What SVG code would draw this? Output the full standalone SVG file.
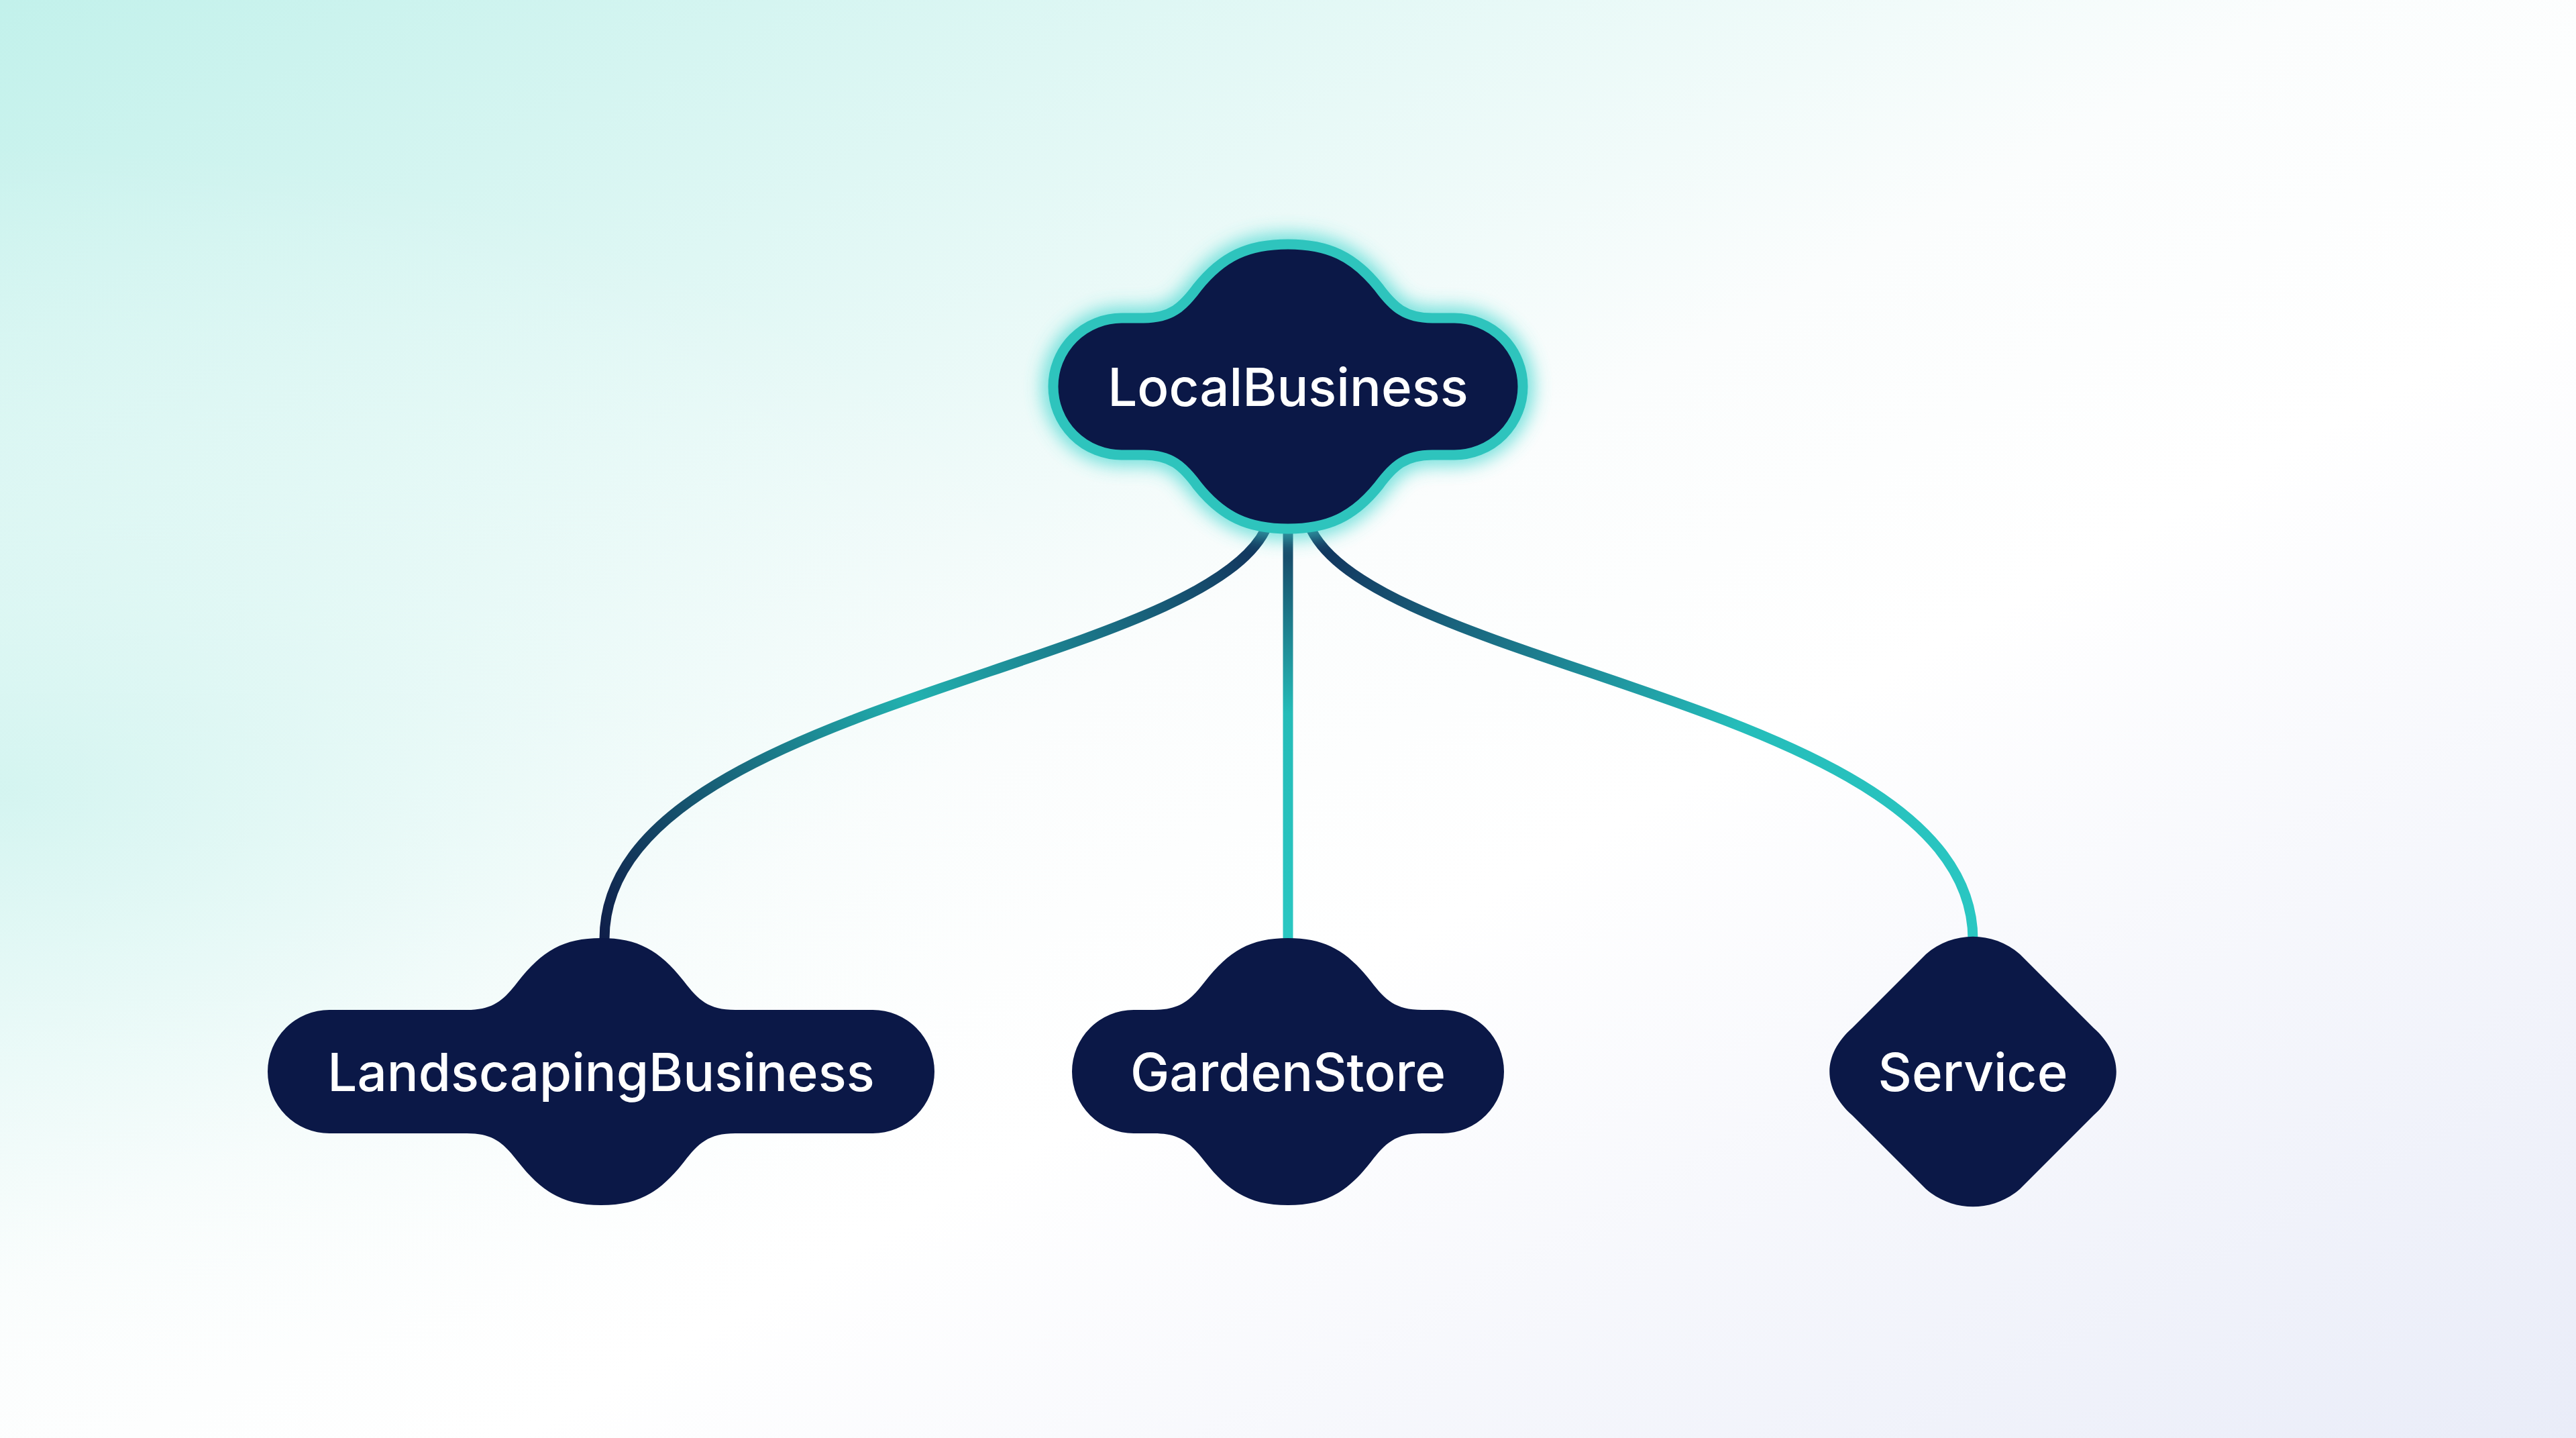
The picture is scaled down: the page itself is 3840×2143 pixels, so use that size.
<svg xmlns="http://www.w3.org/2000/svg" width="3840" height="2143" viewBox="0 0 3840 2143">
<defs>
<linearGradient id="bg" x1="0" y1="0" x2="1" y2="1">
<stop offset="0" stop-color="#c2f1eb"/>
<stop offset="0.45" stop-color="#fbfdfd"/>
<stop offset="0.6" stop-color="#ffffff"/>
<stop offset="1" stop-color="#e9ecf8"/>
</linearGradient>
<radialGradient id="bg2" cx="0" cy="0.55" r="0.45">
<stop offset="0" stop-color="#cdf3ee" stop-opacity="0.7"/>
<stop offset="1" stop-color="#ffffff" stop-opacity="0"/>
</radialGradient>
<linearGradient id="gL" gradientUnits="userSpaceOnUse" x1="1886" y1="795" x2="901" y2="1398">
<stop offset="0" stop-color="#12305a"/>
<stop offset="0.5" stop-color="#22b2b0"/>
<stop offset="1" stop-color="#0f1f4a"/>
</linearGradient>
<linearGradient id="gR" gradientUnits="userSpaceOnUse" x1="1955" y1="795" x2="2941" y2="1398">
<stop offset="0" stop-color="#12305a"/>
<stop offset="0.6" stop-color="#25bdba"/>
<stop offset="1" stop-color="#2ac7c2"/>
</linearGradient>
<linearGradient id="gM" gradientUnits="userSpaceOnUse" x1="0" y1="789" x2="0" y2="1398">
<stop offset="0" stop-color="#163a5e"/>
<stop offset="0.45" stop-color="#25bcb8"/>
<stop offset="1" stop-color="#2ac7c2"/>
</linearGradient>
<filter id="glow" x="-20%" y="-20%" width="140%" height="140%">
<feGaussianBlur stdDeviation="14"/>
</filter>
</defs>
<style>
.node{fill:#0b1847;}
.lbl{font-family:Inter,"Noto Sans","Liberation Sans",sans-serif;font-size:78px;font-weight:500;fill:#ffffff;text-anchor:middle;dominant-baseline:central;}
.edge{fill:none;stroke-width:15;stroke-linecap:round;}
</style>
<rect width="3840" height="2143" fill="url(#bg)"/>
<rect width="3840" height="2143" fill="url(#bg2)"/>
<g id="connectors">
<path class="edge" stroke="url(#gL)" d="M1886,790 C1780,1000 900,1050 901,1400"/>
<path class="edge" stroke="url(#gM)" d="M1920,790 L1920,1400"/>
<path class="edge" stroke="url(#gR)" d="M1955,790 C2060,1000 2940,1050 2941,1400"/>
</g>
<g id="LocalBusiness">
<path d="M1672,474 L1705,474 C1745,474 1763,458 1785,428 C1822,382 1860,364 1920,364 C1980,364 2018,382 2055,428 C2077,458 2095,474 2135,474 L2168,474 A102 102 0 0 1 2168,678 L2135,678 C2095,678 2077,694 2055,724 C2018,770 1980,788 1920,788 C1860,788 1822,770 1785,724 C1763,694 1745,678 1705,678 L1672,678 A102 102 0 0 1 1672,474 Z" fill="none" stroke="#3fd6cf" stroke-width="30" filter="url(#glow)" opacity="0.8"/>
<path class="node" d="M1672,474 L1705,474 C1745,474 1763,458 1785,428 C1822,382 1860,364 1920,364 C1980,364 2018,382 2055,428 C2077,458 2095,474 2135,474 L2168,474 A102 102 0 0 1 2168,678 L2135,678 C2095,678 2077,694 2055,724 C2018,770 1980,788 1920,788 C1860,788 1822,770 1785,724 C1763,694 1745,678 1705,678 L1672,678 A102 102 0 0 1 1672,474 Z" stroke="#2ec4bd" stroke-width="15"/>
<text class="lbl" x="1920" y="576">LocalBusiness</text>
</g>
<g id="LandscapingBusiness" transform="translate(896,1597)">
<path class="node" d="M-405,-92 L-200,-92 C-160,-92 -145,-107 -124,-134 C-88,-180 -56,-199 0,-199 C56,-199 88,-180 124,-134 C145,-107 160,-92 200,-92 L405,-92 A92 92 0 0 1 405,92 L200,92 C160,92 145,107 124,134 C88,180 56,199 0,199 C-56,199 -88,180 -124,134 C-145,107 -160,92 -200,92 L-405,92 A92 92 0 0 1 -405,-92 Z"/>
<text class="lbl" x="0" y="0">LandscapingBusiness</text>
</g>
<g id="GardenStore" transform="translate(1920,1597)">
<path class="node" d="M-230,-92 L-200,-92 C-160,-92 -145,-107 -124,-134 C-88,-180 -56,-199 0,-199 C56,-199 88,-180 124,-134 C145,-107 160,-92 200,-92 L230,-92 A92 92 0 0 1 230,92 L200,92 C160,92 145,107 124,134 C88,180 56,199 0,199 C-56,199 -88,180 -124,134 C-145,107 -160,92 -200,92 L-230,92 A92 92 0 0 1 -230,-92 Z"/>
<text class="lbl" x="0" y="0">GardenStore</text>
</g>
<g id="Service" transform="translate(2941,1597)">
<path class="node" d="M-70,-175 C-30,-210 30,-210 70,-175 L180,-65 C225,-25 225,25 180,65 L70,175 C30,210 -30,210 -70,175 L-180,65 C-225,25 -225,-25 -180,-65 Z"/>
<text class="lbl" x="0" y="0">Service</text>
</g>
</svg>
